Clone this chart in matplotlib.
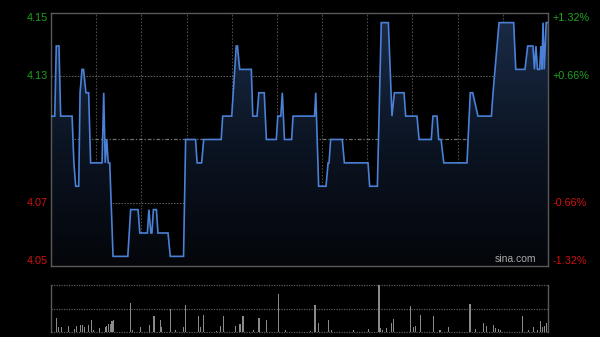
import numpy as np
import matplotlib
matplotlib.use("Agg")
import matplotlib.pyplot as plt
from matplotlib.patches import PathPatch
from matplotlib.colors import LinearSegmentedColormap

plt.rcParams['font.family'] = ['Liberation Sans', 'DejaVu Sans']

# ---------------- data ----------------
prev_close = 4.10
pct_range = 0.0132

times = [0, 2.5, 3.5, 5.3, 6.4, 14, 15.2, 16.4, 18.4, 19.3, 20.6, 21.6, 23.2, 25,
         26.3, 33.9, 35, 36, 37, 38, 39, 41.2, 51, 52.9, 57.8, 59, 64, 65, 66.3, 67,
         68, 70, 71, 77.7, 79.2, 88, 89.4, 96, 97, 100, 101.4, 113, 114, 120, 121,
         123, 123.8, 125.3, 133, 134, 136.8, 138, 141.6, 143, 149.6, 150.6, 152.6,
         153.6, 155, 159.8, 160.7, 175, 175.8, 177.7, 182.6, 184, 184.6, 185.7,
         193.4, 194.8, 210.5, 211.6, 216.7, 219.3, 224, 226.4, 228, 234.4, 235.5,
         243, 244.4, 252.5, 253.6, 256.3, 257.4, 259, 260.8, 276.2, 278.4, 280,
         283.5, 292.4, 293.5, 297.5, 307.2, 308.6, 314.7, 316.5, 320, 321, 322, 323,
         324.5, 325.3, 326, 326.7, 327.5, 328.8, 330]
prices = [4.11, 4.11, 4.14, 4.14, 4.11, 4.11, 4.09, 4.08, 4.08, 4.12, 4.13, 4.13, 4.12, 4.12,
          4.09, 4.09, 4.12, 4.09, 4.10, 4.09, 4.09, 4.05, 4.05, 4.07, 4.07, 4.06, 4.06, 4.07, 4.06, 4.06,
          4.07, 4.07, 4.06, 4.06, 4.05, 4.05, 4.10, 4.10, 4.09, 4.09, 4.10, 4.10, 4.11, 4.11, 4.12,
          4.14, 4.14, 4.13, 4.13, 4.11, 4.11, 4.12, 4.12, 4.10, 4.10, 4.11, 4.11,
          4.12, 4.10, 4.10, 4.11, 4.11, 4.12, 4.08, 4.08, 4.09, 4.09, 4.10,
          4.10, 4.09, 4.09, 4.08, 4.08, 4.15, 4.15, 4.11, 4.12, 4.12, 4.11,
          4.11, 4.10, 4.10, 4.11, 4.11, 4.10, 4.10, 4.09, 4.09, 4.12, 4.12,
          4.11, 4.11, 4.12, 4.15, 4.15, 4.13, 4.13, 4.14, 4.14, 4.13, 4.14, 4.13,
          4.13, 4.14, 4.13, 4.15, 4.13, 4.15, 4.15]

vol_times = [0.5, 3.8, 5.1, 7.1, 11.5, 15.3, 17.1, 19.9, 21.1, 22.1, 24.8, 27.0, 28.1,
             32.5, 35.9, 37.0, 38.1, 39.2, 40.5, 41.8, 52.9, 54.0, 59.6, 65.3, 68.4,
             72.8, 73.5, 79.5, 82.8, 87.8, 89.6, 97.8, 99.4, 101.1, 109.6, 112.7, 114.5,
             122.8, 125.5, 127.5, 134.3, 138.1, 143.2, 151.2, 156.0,
             172.0, 175.3, 177.5, 184.1, 186.4, 200.8, 210.7, 217.8, 218.9, 220.0,
             222.9, 225.8, 227.3, 238.8, 240.6, 242.2, 245.5, 253.8, 258.3, 263.8,
             278.2, 282.0, 287.1, 288.9, 293.7, 295.3, 297.1, 298.2, 313.0, 317.0,
             320.3, 323.0, 325.3, 326.4, 327.7, 329.3]
vol_values = [6, 14, 5, 5, 6, 3, 6, 7, 7, 5, 7, 12, 2,
              4, 5, 6, 8, 8, 11, 12, 29, 2, 5, 7, 16,
              12, 5, 23, 2, 5, 27, 16, 5, 17, 1, 6, 16,
              6, 8, 16, 2, 14, 12, 38, 2,
              1, 27, 9, 12, 2, 2, 3, 47, 4, 2,
              4, 9, 13, 26, 5, 6, 17, 16, 2, 5,
              28, 3, 9, 6, 7, 4, 3, 2, 16, 2,
              5, 2, 11, 5, 6, 9]

left_labels = ['4.15', '4.13', '4.07', '4.05']
right_labels = ['+1.32%', '+0.66%', '-0.66%', '-1.32%']

# ---------------- figure ----------------
W, H = 600, 337
fig = plt.figure(figsize=(6, 3.37), dpi=100, facecolor='black')

ax = fig.add_axes([51 / W, 1 - 266 / H, 497 / W, 253 / H])
ax.set_facecolor('black')
ymin = prev_close * (1 - pct_range)
ymax = prev_close * (1 + pct_range)
ax.set_xlim(0, 330)
ax.set_ylim(ymin, ymax)
ax.set_xticks([])
ax.set_yticks([])
for s in ax.spines.values():
    s.set_color('#5a5a5a')
    s.set_linewidth(1.0)

grid_col = '#4a4a4a'
for xv in range(30, 330, 30):
    ax.axvline(xv, color=grid_col, lw=0.8, ls=(0, (1.5, 1.5)), zorder=1)
y_up = prev_close * (1 + pct_range / 2)
y_dn = prev_close * (1 - pct_range / 2)
for yv in (y_up, y_dn):
    ax.axhline(yv, color='#666666', lw=0.7, ls=(0, (1.5, 1.5)), zorder=1)
ax.axhline(prev_close, color='#707070', lw=0.9, ls=(0, (3, 1.5, 1, 1.5)), zorder=1)

# gradient fill beneath price line
poly = ax.fill_between(times, prices, ymin, facecolor='none', edgecolor='none')
cmap = LinearSegmentedColormap.from_list('g', ['#04060a', '#0c1524', '#1b2c48'])
grad = np.linspace(0, 1, 256).reshape(-1, 1)
im = ax.imshow(grad, extent=[0, 330, ymin, ymax], origin='lower', aspect='auto',
               cmap=cmap, zorder=2, interpolation='bilinear')
patch = PathPatch(poly.get_paths()[0], transform=ax.transData, facecolor='none', edgecolor='none')
ax.add_patch(patch)
im.set_clip_path(patch)
ax.set_xlim(0, 330)
ax.set_ylim(ymin, ymax)

ax.plot(times, prices, color='#4a80d6', lw=1.2, zorder=3, solid_joinstyle='miter')

green = '#1fa21f'
red = '#d01010'
fs = 7.8
label_y = [ymax, y_up, y_dn, ymin]
vas = ['top', 'center', 'center', 'bottom']
cols = [green, green, red, red]
trans = ax.get_yaxis_transform()
for lab, yv, va, c in zip(left_labels, label_y, vas, cols):
    ax.text(-0.006, yv, lab, transform=trans, ha='right', va=va, color=c, fontsize=fs)
for lab, yv, va, c in zip(right_labels, label_y, vas, cols):
    ax.text(1.009, yv, lab, transform=trans, ha='left', va=va, color=c, fontsize=fs)

ax.text(0.977, 0.008, 'sina.com', transform=ax.transAxes, ha='right', va='bottom',
        color='#a8a8a8', fontsize=7.5, zorder=5)

# ---------------- volume panel ----------------
ax2 = fig.add_axes([51 / W, 1 - 332 / H, 497 / W, 47 / H])
ax2.set_facecolor('black')
ax2.set_xlim(0, 330)
vmax = max(vol_values)
ax2.set_ylim(0, vmax)
ax2.set_xticks([])
ax2.set_yticks([])
for k in ('top', 'bottom'):
    ax2.spines[k].set_visible(False)
for k in ('left', 'right'):
    ax2.spines[k].set_color('#5a5a5a')
    ax2.spines[k].set_linewidth(1.0)
for yv in (0, vmax / 2, vmax):
    ax2.axhline(yv, color='#5a5a5a', lw=0.9, ls=(0, (1, 1)), clip_on=False, zorder=1)
ax2.bar(vol_times, vol_values, width=0.7, color='#8a8a8a', linewidth=0, zorder=2)

fig.savefig('out.png', dpi=100, facecolor='black')
